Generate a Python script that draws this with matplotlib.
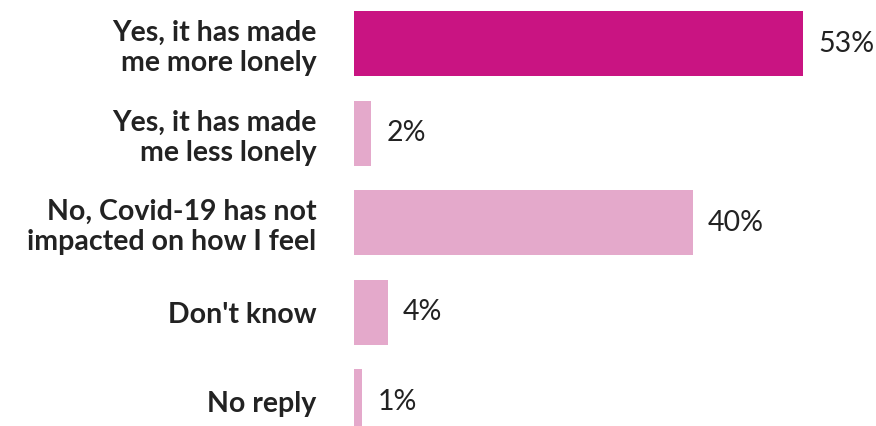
import matplotlib.pyplot as plt

# Survey answers and shares
answers = ["Yes, it has made\nme more lonely",
           "Yes, it has made\nme less lonely",
           "No, Covid-19 has not\nimpacted on how I feel",
           "Don't know",
           "No reply"]
shares = [53, 2, 40, 4, 1]
colors = ["#C91482", "#E4A9CB", "#E4A9CB", "#E4A9CB", "#E4A9CB"]

fig = plt.figure(figsize=(8.76, 4.26), dpi=100)
ax = fig.add_axes([354 / 876, 0, 508 / 876, 1])

pos = list(range(len(answers)))
ax.barh(pos, shares, height=0.726, color=colors)

for p, v in zip(pos, shares):
    ax.annotate(f"{v}%", xy=(v, p), xytext=(11, 0), textcoords="offset points",
                ha="left", va="center", fontsize=20.5, color="#222222",
                family="Lato")

ax.set_xlim(0, 60)
ax.set_ylim(4.27, -0.486)
ax.set_yticks(pos)
ax.set_yticklabels(answers, fontsize=20.5, fontweight="bold", color="#222222",
                   family="Lato", linespacing=1.2, ha="right")
ax.tick_params(axis="y", length=0, pad=27)
ax.set_xticks([])
for s in ax.spines.values():
    s.set_visible(False)

fig.savefig("out.png", dpi=100)
